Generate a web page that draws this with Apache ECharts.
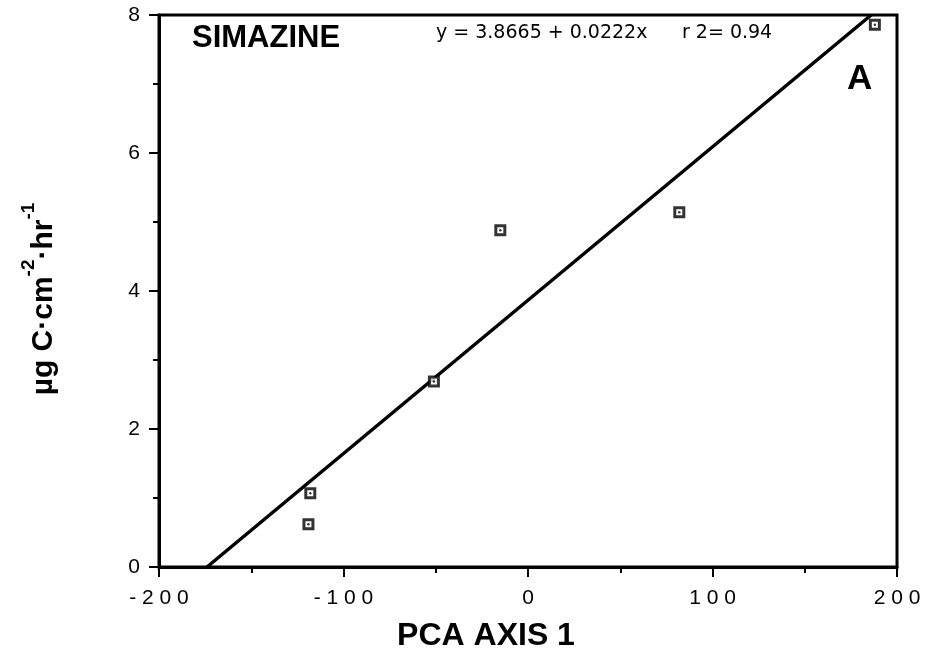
<!DOCTYPE html>
<html>
<head>
<meta charset="utf-8">
<script src="https://cdn.jsdelivr.net/npm/echarts@6/dist/echarts.min.js"></script>
<style>html,body{margin:0;padding:0;background:#fff}#c{width:925px;height:657px}</style>
</head>
<body>
<div id="c"></div>
<script>
// Observed points (PCA axis 1 score, production)
var pcaX = [-119, -118, -51, -15, 82, 188];
var prodY = [0.62, 1.07, 2.69, 4.88, 5.14, 7.86];
// Regression line endpoints as drawn (clipped to plot)
var lineX = [-174, 186];
var lineY = [0, 8];
var xTicks = [-200, -100, 0, 100, 200];
var yTicks = [0, 2, 4, 6, 8];

var pts = pcaX.map(function (x, i) { return [x, prodY[i]]; });
var linePts = lineX.map(function (x, i) { return [x, lineY[i]]; });

var chart = echarts.init(document.getElementById('c'), null, {renderer: 'canvas'});
var font = 'Liberation Sans, Arial, Helvetica, sans-serif';
var wide = 'DejaVu Sans, Verdana, sans-serif';
chart.setOption({
  animation: false,
  backgroundColor: '#fff',
  grid: {left: 159, right: 28, top: 15, bottom: 88, show: true, borderColor: '#000', borderWidth: 3},
  xAxis: {
    type: 'value', min: xTicks[0], max: xTicks[xTicks.length - 1], interval: 100,
    axisLine: {show: true, onZero: false, lineStyle: {color: '#000', width: 3}},
    axisTick: {show: true, inside: false, length: 10, lineStyle: {color: '#000', width: 2}},
    minorTick: {show: true, splitNumber: 2, length: 6, lineStyle: {color: '#000', width: 2}},
    splitLine: {show: false},
    axisLabel: {color: '#000', fontFamily: font, fontSize: 21, margin: 21,
      formatter: function (v) { return String(v).split('').join(' '); }},
    name: 'PCA AXIS 1', nameLocation: 'middle', nameGap: 53,
    nameTextStyle: {color: '#000', fontFamily: font, fontSize: 32, fontWeight: 'bold', padding: [0, 84, 0, 0]}
  },
  yAxis: {
    type: 'value', min: yTicks[0], max: yTicks[yTicks.length - 1], interval: 2,
    axisLine: {show: true, onZero: false, lineStyle: {color: '#000', width: 3}},
    axisTick: {show: true, inside: false, length: 10, lineStyle: {color: '#000', width: 2}},
    minorTick: {show: true, splitNumber: 2, length: 6, lineStyle: {color: '#000', width: 2}},
    splitLine: {show: false},
    axisLabel: {color: '#000', fontFamily: font, fontSize: 21, margin: 19},
    name: '{n|\u00b5g C\u00b7cm}{s|-2}{n|\u00b7hr}{s|-1}',
    nameLocation: 'middle', nameGap: 100, nameRotate: 90,
    nameTextStyle: {
      color: '#000', fontFamily: font, fontSize: 30, fontWeight: 'bold', padding: [0, 16, 0, 0],
      rich: {
        n: {fontFamily: font, fontSize: 30, fontWeight: 'bold', color: '#000', lineHeight: 40, verticalAlign: 'bottom'},
        s: {fontFamily: font, fontSize: 19, fontWeight: 'bold', color: '#000', lineHeight: 40, verticalAlign: 'top', padding: [0, 0, 18, 0]}
      }
    }
  },
  series: [
    {
      type: 'line', data: linePts, symbol: 'none', silent: true,
      lineStyle: {color: '#000', width: 3.5}, z: 2
    },
    {
      type: 'scatter', data: pts, symbol: 'rect', symbolSize: 9,
      itemStyle: {color: '#fff', borderColor: '#000', borderWidth: 3}, z: 3
    },
    {
      type: 'scatter', data: pts, symbol: 'circle', symbolSize: 2.5,
      itemStyle: {color: '#000'}, z: 4
    }
  ],
  graphic: [
    {type: 'text', left: 192, top: 23, style: {text: 'SIMAZINE', font: 'bold 31px ' + font, fill: '#000'}},
    {type: 'text', left: 436, top: 24, style: {text: 'y = 3.8665 + 0.0222x', font: '19px ' + wide, fill: '#000'}},
    {type: 'text', left: 682, top: 24, style: {text: 'r 2= 0.94', font: '19px ' + wide, fill: '#000'}},
    {type: 'text', left: 847, top: 62, style: {text: 'A', font: 'bold 35px ' + font, fill: '#000'}}
  ]
});
</script>
</body>
</html>
